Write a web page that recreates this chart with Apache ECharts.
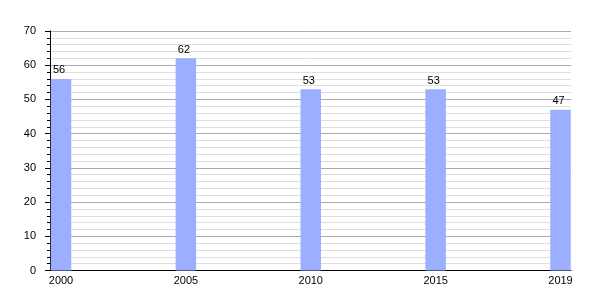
<!DOCTYPE html>
<html><head><meta charset="utf-8">
<script src="https://cdn.jsdelivr.net/npm/echarts@6/dist/echarts.min.js"></script>
<style>html,body{margin:0;padding:0;background:#fff}#c{width:600px;height:300px}</style>
</head><body><div id="c"></div>
<script>
const categories = ['2000', '2005', '2010', '2015', '2019'];
const values = [56, 62, 53, 53, 47];
const yTicks = [0, 10, 20, 30, 40, 50, 60, 70];

const font = 'Liberation Sans, Arial, sans-serif';
const chart = echarts.init(document.getElementById('c'), null, {renderer: 'canvas'});
chart.setOption({
  animation: false,
  grid: [
    {left: 50, right: 29, top: 31, bottom: 29.5},
    {left: 61, right: 39.5, top: 31, bottom: 29.5}
  ],
  xAxis: [
    {type: 'value', gridIndex: 0, min: 0, max: 1,
     axisLine: {show: true, lineStyle: {color: '#000', width: 1}},
     axisTick: {show: false}, axisLabel: {show: false}, splitLine: {show: false}},
    {type: 'category', gridIndex: 1, data: categories, boundaryGap: false,
     axisLine: {show: false}, axisTick: {show: false},
     axisLabel: {color: '#000', fontSize: 11, fontFamily: font, margin: 5}}
  ],
  yAxis: [
    {type: 'value', gridIndex: 0, min: yTicks[0], max: yTicks[yTicks.length - 1], interval: 10,
     axisLine: {show: true, lineStyle: {color: '#000', width: 1}},
     axisTick: {show: true, length: 5, lineStyle: {color: '#000'}},
     minorTick: {show: true, splitNumber: 5, length: 3, lineStyle: {color: '#000'}},
     axisLabel: {color: '#000', fontSize: 11, fontFamily: font, margin: 14},
     splitLine: {show: true, lineStyle: {color: '#aaaaaa', width: 1}},
     minorSplitLine: {show: true, lineStyle: {color: '#dedede', width: 1}}},
    {type: 'value', gridIndex: 1, min: 0, max: 70, show: false}
  ],
  series: [{
    type: 'bar', xAxisIndex: 1, yAxisIndex: 1, data: values,
    barWidth: 20.5, clip: false,
    itemStyle: {color: '#9caeff'},
    label: {show: true, position: 'top', distance: 3, color: '#000', fontSize: 11, fontFamily: font, offset: [-2, 0]}
  }]
});
</script></body></html>
